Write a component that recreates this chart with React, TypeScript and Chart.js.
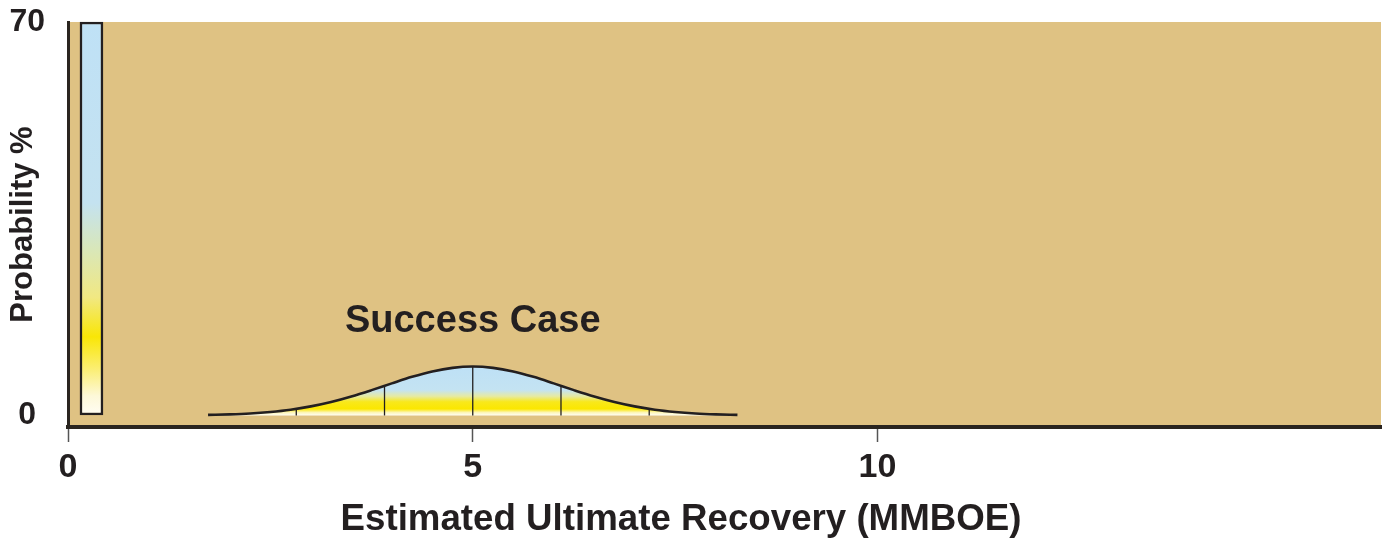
import React, { useEffect, useRef } from "react";
import { Chart, registerables } from "chart.js";

Chart.register(...registerables);

// ---------- data ----------
const xTickValues = [0, 5, 10];
const yTickValues = [0, 70];

const dryHoleX = [0.29];
const dryHoleProbability = [70];

const successCurveX = [1.73, 2.0, 2.25, 2.5, 2.75, 3.0, 3.25, 3.5, 3.75, 4.0, 4.25, 4.5, 4.75, 5.0, 5.25, 5.5, 5.75, 6.0, 6.25, 6.5, 6.75, 7.0, 7.25, 7.5, 7.75, 8.0, 8.27];
const successCurveY = [0.1, 0.2, 0.36, 0.63, 1.03, 1.62, 2.4, 3.38, 4.51, 5.71, 6.87, 7.83, 8.47, 8.7, 8.47, 7.83, 6.87, 5.71, 4.51, 3.38, 2.4, 1.62, 1.03, 0.63, 0.36, 0.2, 0.1];

const percentileX = [2.82, 3.91, 5.0, 6.09, 7.18];
const percentileY = [1.18, 5.28, 8.7, 5.28, 1.18];

const successLabel = "Success Case";
const successLabelX = 5;
const successLabelY = 14.9;
const xTitle = "Estimated Ultimate Recovery (MMBOE)";
const yTitle = "Probability %";

// ---------- styles ----------
const FONT = "'Liberation Sans', Arial, Helvetica, sans-serif";
const INK = "#231f20";
const TAN = "#dfc283";

function curveGradient(c: any) {
  const chart = c.chart;
  const { ctx, chartArea, scales } = chart;
  if (!chartArea || !scales.y) return "rgba(0,0,0,0)";
  const y0 = scales.y.getPixelForValue(0);
  const y1 = scales.y.getPixelForValue(9);
  const g = ctx.createLinearGradient(0, y0, 0, y1);
  g.addColorStop(0, "#fffef6");
  g.addColorStop(0.06, "#fdf6b8");
  g.addColorStop(0.13, "#fbe700");
  g.addColorStop(0.27, "#f8e81c");
  g.addColorStop(0.38, "#e6eaa2");
  g.addColorStop(0.5, "#c4e3f2");
  g.addColorStop(1, "#bde0f6");
  return g;
}

function barGradient(c: any) {
  const chart = c.chart;
  const { ctx, chartArea, scales } = chart;
  if (!chartArea || !scales.y) return "rgba(0,0,0,0)";
  const y0 = scales.y.getPixelForValue(0);
  const y1 = scales.y.getPixelForValue(70);
  const g = ctx.createLinearGradient(0, y0, 0, y1);
  g.addColorStop(0, "#fffdf5");
  g.addColorStop(0.05, "#fdf8d8");
  g.addColorStop(0.12, "#fbee70");
  g.addColorStop(0.2, "#f9e606");
  g.addColorStop(0.3, "#f1e882");
  g.addColorStop(0.42, "#d9e7b8");
  g.addColorStop(0.54, "#c4e2f0");
  g.addColorStop(1, "#bfe1f6");
  return g;
}

const decorPlugin = {
  id: "decor",
  beforeDraw(chart: any) {
    const { ctx, chartArea: a } = chart;
    ctx.save();
    ctx.fillStyle = TAN;
    ctx.fillRect(a.left, a.top, a.right - a.left, a.bottom - a.top);
    ctx.restore();
  },
  afterDraw(chart: any) {
    const { ctx, scales } = chart;
    ctx.save();
    ctx.fillStyle = INK;
    ctx.textAlign = "center";
    ctx.textBaseline = "alphabetic";
    ctx.font = `bold 38px ${FONT}`;
    ctx.fillText(successLabel, scales.x.getPixelForValue(successLabelX), scales.y.getPixelForValue(successLabelY));
    ctx.font = `bold 36.7px ${FONT}`;
    ctx.fillText(xTitle, 681, 530);
    ctx.restore();
  },
};

export default function App() {
  const ref = useRef<HTMLCanvasElement>(null);

  useEffect(() => {
    if (!ref.current) return;
    Chart.defaults.font.family = FONT;

    const curve = successCurveX.map((x, i) => ({ x, y: successCurveY[i] }));
    const markers = percentileX.map((x, i) => ({
      type: "line" as const,
      data: [
        { x, y: 0 },
        { x, y: percentileY[i] },
      ],
      borderColor: INK,
      borderWidth: 1.3,
      pointRadius: 0,
      fill: false,
      tension: 0,
    }));

    const chart = new Chart(ref.current, {
      type: "line",
      data: {
        datasets: [
          {
            type: "line",
            data: curve,
            borderColor: INK,
            borderWidth: 2.6,
            pointRadius: 0,
            cubicInterpolationMode: "monotone",
            fill: "origin",
            backgroundColor: curveGradient,
          } as any,
          ...markers,
          {
            type: "bar",
            data: dryHoleX.map((x, i) => ({ x, y: dryHoleProbability[i] })),
            backgroundColor: barGradient,
            borderColor: INK,
            borderWidth: 2.5,
            borderSkipped: false,
            barThickness: 23,
            clip: false,
          } as any,
        ],
      },
      options: {
        responsive: false,
        animation: false,
        layout: { padding: { top: 22, right: 2, left: 0, bottom: 0 } },
        plugins: {
          legend: { display: false },
          tooltip: { enabled: false },
          filler: { drawTime: "beforeDatasetsDraw" },
        } as any,
        scales: {
          x: {
            type: "linear",
            min: 0,
            max: 16.22,
            offset: false,
            afterFit: (s: any) => {
              s.height = 112;
              s.paddingLeft = 0;
              s.paddingRight = 0;
            },
            afterBuildTicks: (s: any) => {
              s.ticks = xTickValues.map((v) => ({ value: v }));
            },
            grid: {
              display: true,
              drawOnChartArea: false,
              drawTicks: true,
              tickLength: 15,
              tickColor: "#555",
              tickWidth: 1.5,
              offset: false,
            },
            border: { display: true, color: "#2a2520", width: 4 },
            ticks: {
              color: INK,
              font: { size: 34, weight: "bold" },
              padding: 5,
              maxRotation: 0,
              autoSkip: false,
              callback: (v: any) => String(v),
            },
          },
          y: {
            type: "linear",
            min: -2.05,
            max: 70,
            afterFit: (s: any) => {
              s.width = 68;
              s.paddingTop = 0;
              s.paddingBottom = 0;
            },
            afterBuildTicks: (s: any) => {
              s.ticks = yTickValues.map((v) => ({ value: v }));
            },
            grid: { display: true, drawOnChartArea: false, drawTicks: false },
            border: { display: true, color: "#2a2520", width: 3 },
            ticks: {
              color: INK,
              font: { size: 32, weight: "bold" },
              crossAlign: "center",
              padding: 23,
              autoSkip: false,
              callback: (v: any) => String(v),
            },
            title: {
              display: true,
              text: yTitle,
              color: INK,
              font: { size: 31, weight: "bold" },
              padding: { top: 5, bottom: 0 },
            },
          },
        },
      } as any,
      plugins: [decorPlugin],
    });

    return () => chart.destroy();
  }, []);

  return (
    <div style={{ position: "absolute", left: 0, top: 0, width: 1383, height: 539, background: "#ffffff" }}>
      <canvas ref={ref} width={1383} height={539} style={{ display: "block", width: 1383, height: 539 }} />
    </div>
  );
}
